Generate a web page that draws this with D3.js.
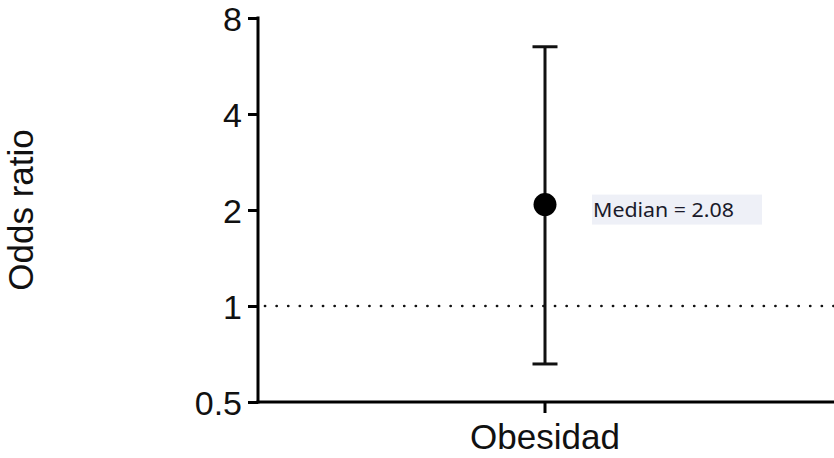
<!DOCTYPE html>
<html><head><meta charset="utf-8">
<script src="https://cdn.jsdelivr.net/npm/d3@7"></script>
<style>body{margin:0;background:#fff}svg{display:block}</style>
</head><body>
<svg id="c" width="834" height="458"></svg>
<script>
const categories = ["Obesidad"];
const medians = [2.08];
const lowerCI = [0.658];
const upperCI = [6.5];
const yTicks = [0.5, 1, 2, 4, 8];
const yTickLabels = ["0.5", "1", "2", "4", "8"];
const refValue = 1;
const labelText = ["Median = 2.08"];

(function(){
const svg = d3.select("#c");
const mLeft = 258, mRight = 834, mTop = 18, mBottom = 402;
const y = d3.scaleLog().base(2).domain([0.5, 8]).range([mBottom, mTop]);
const x2 = d3.scaleBand().domain(categories).range([mLeft, mLeft + 2*(545-mLeft)]);
const cx = d => x2(d) + x2.bandwidth()/2;
const font = "Liberation Sans, Arial, sans-serif";

// reference dotted line
svg.append("line").attr("x1", mLeft + 7).attr("x2", mRight).attr("y1", y(refValue)).attr("y2", y(refValue))
  .attr("stroke", "#111").attr("stroke-width", 2.7).attr("stroke-dasharray", "0.1 11.5").attr("stroke-linecap", "round");

// y axis
const yAxis = d3.axisLeft(y).tickValues(yTicks).tickFormat((d,i) => yTickLabels[i]).tickSize(10).tickSizeOuter(0).tickPadding(6);
const gy = svg.append("g").attr("transform", `translate(${mLeft},0)`).call(yAxis);
gy.select(".domain").attr("stroke", "#000").attr("stroke-width", 3).attr("d", `M0,${mTop-1.5}V${mBottom+1.5}`);
gy.selectAll(".tick line").attr("stroke", "#000").attr("stroke-width", 3);
gy.selectAll(".tick text").attr("font-family", font).attr("font-size", 34).attr("fill", "#111").attr("dy", "0.36em");

// x axis
const xAxis = d3.axisBottom(x2).tickSize(11).tickSizeOuter(0).tickPadding(11);
const gx = svg.append("g").attr("transform", `translate(0,${mBottom})`).call(xAxis);
gx.select(".domain").attr("stroke", "#000").attr("stroke-width", 3).attr("d", `M${mLeft-1.5},0H${mRight}`);
gx.selectAll(".tick line").attr("stroke", "#000").attr("stroke-width", 3);
gx.selectAll(".tick text").attr("font-family", font).attr("font-size", 35).attr("fill", "#111");

// error bars
categories.forEach((c, i) => {
  const px = cx(c);
  svg.append("line").attr("x1", px).attr("x2", px).attr("y1", y(upperCI[i])).attr("y2", y(lowerCI[i]))
    .attr("stroke", "#111").attr("stroke-width", 3);
  [upperCI[i], lowerCI[i]].forEach(v => {
    svg.append("line").attr("x1", px - 12.5).attr("x2", px + 12.5).attr("y1", y(v)).attr("y2", y(v))
      .attr("stroke", "#111").attr("stroke-width", 3);
  });
  svg.append("circle").attr("cx", px).attr("cy", y(medians[i])).attr("r", 11.5).attr("fill", "#000");
  const ly = y(medians[i]);
  svg.append("rect").attr("x", px + 47).attr("y", ly - 10).attr("width", 170).attr("height", 30).attr("fill", "#eef0f7");
  svg.append("text").attr("x", px + 48).attr("y", ly + 12).attr("font-family", "Noto Sans, Open Sans, sans-serif")
    .attr("font-size", 20).attr("fill", "#1a1a2a").attr("textLength", 141).attr("lengthAdjust", "spacingAndGlyphs").text(labelText[i]);
});

// y title
svg.append("text").attr("transform", `translate(33,210) rotate(-90)`).attr("text-anchor", "middle")
  .attr("font-family", font).attr("font-size", 35).attr("fill", "#111").text("Odds ratio");
})();
</script>
</body></html>
